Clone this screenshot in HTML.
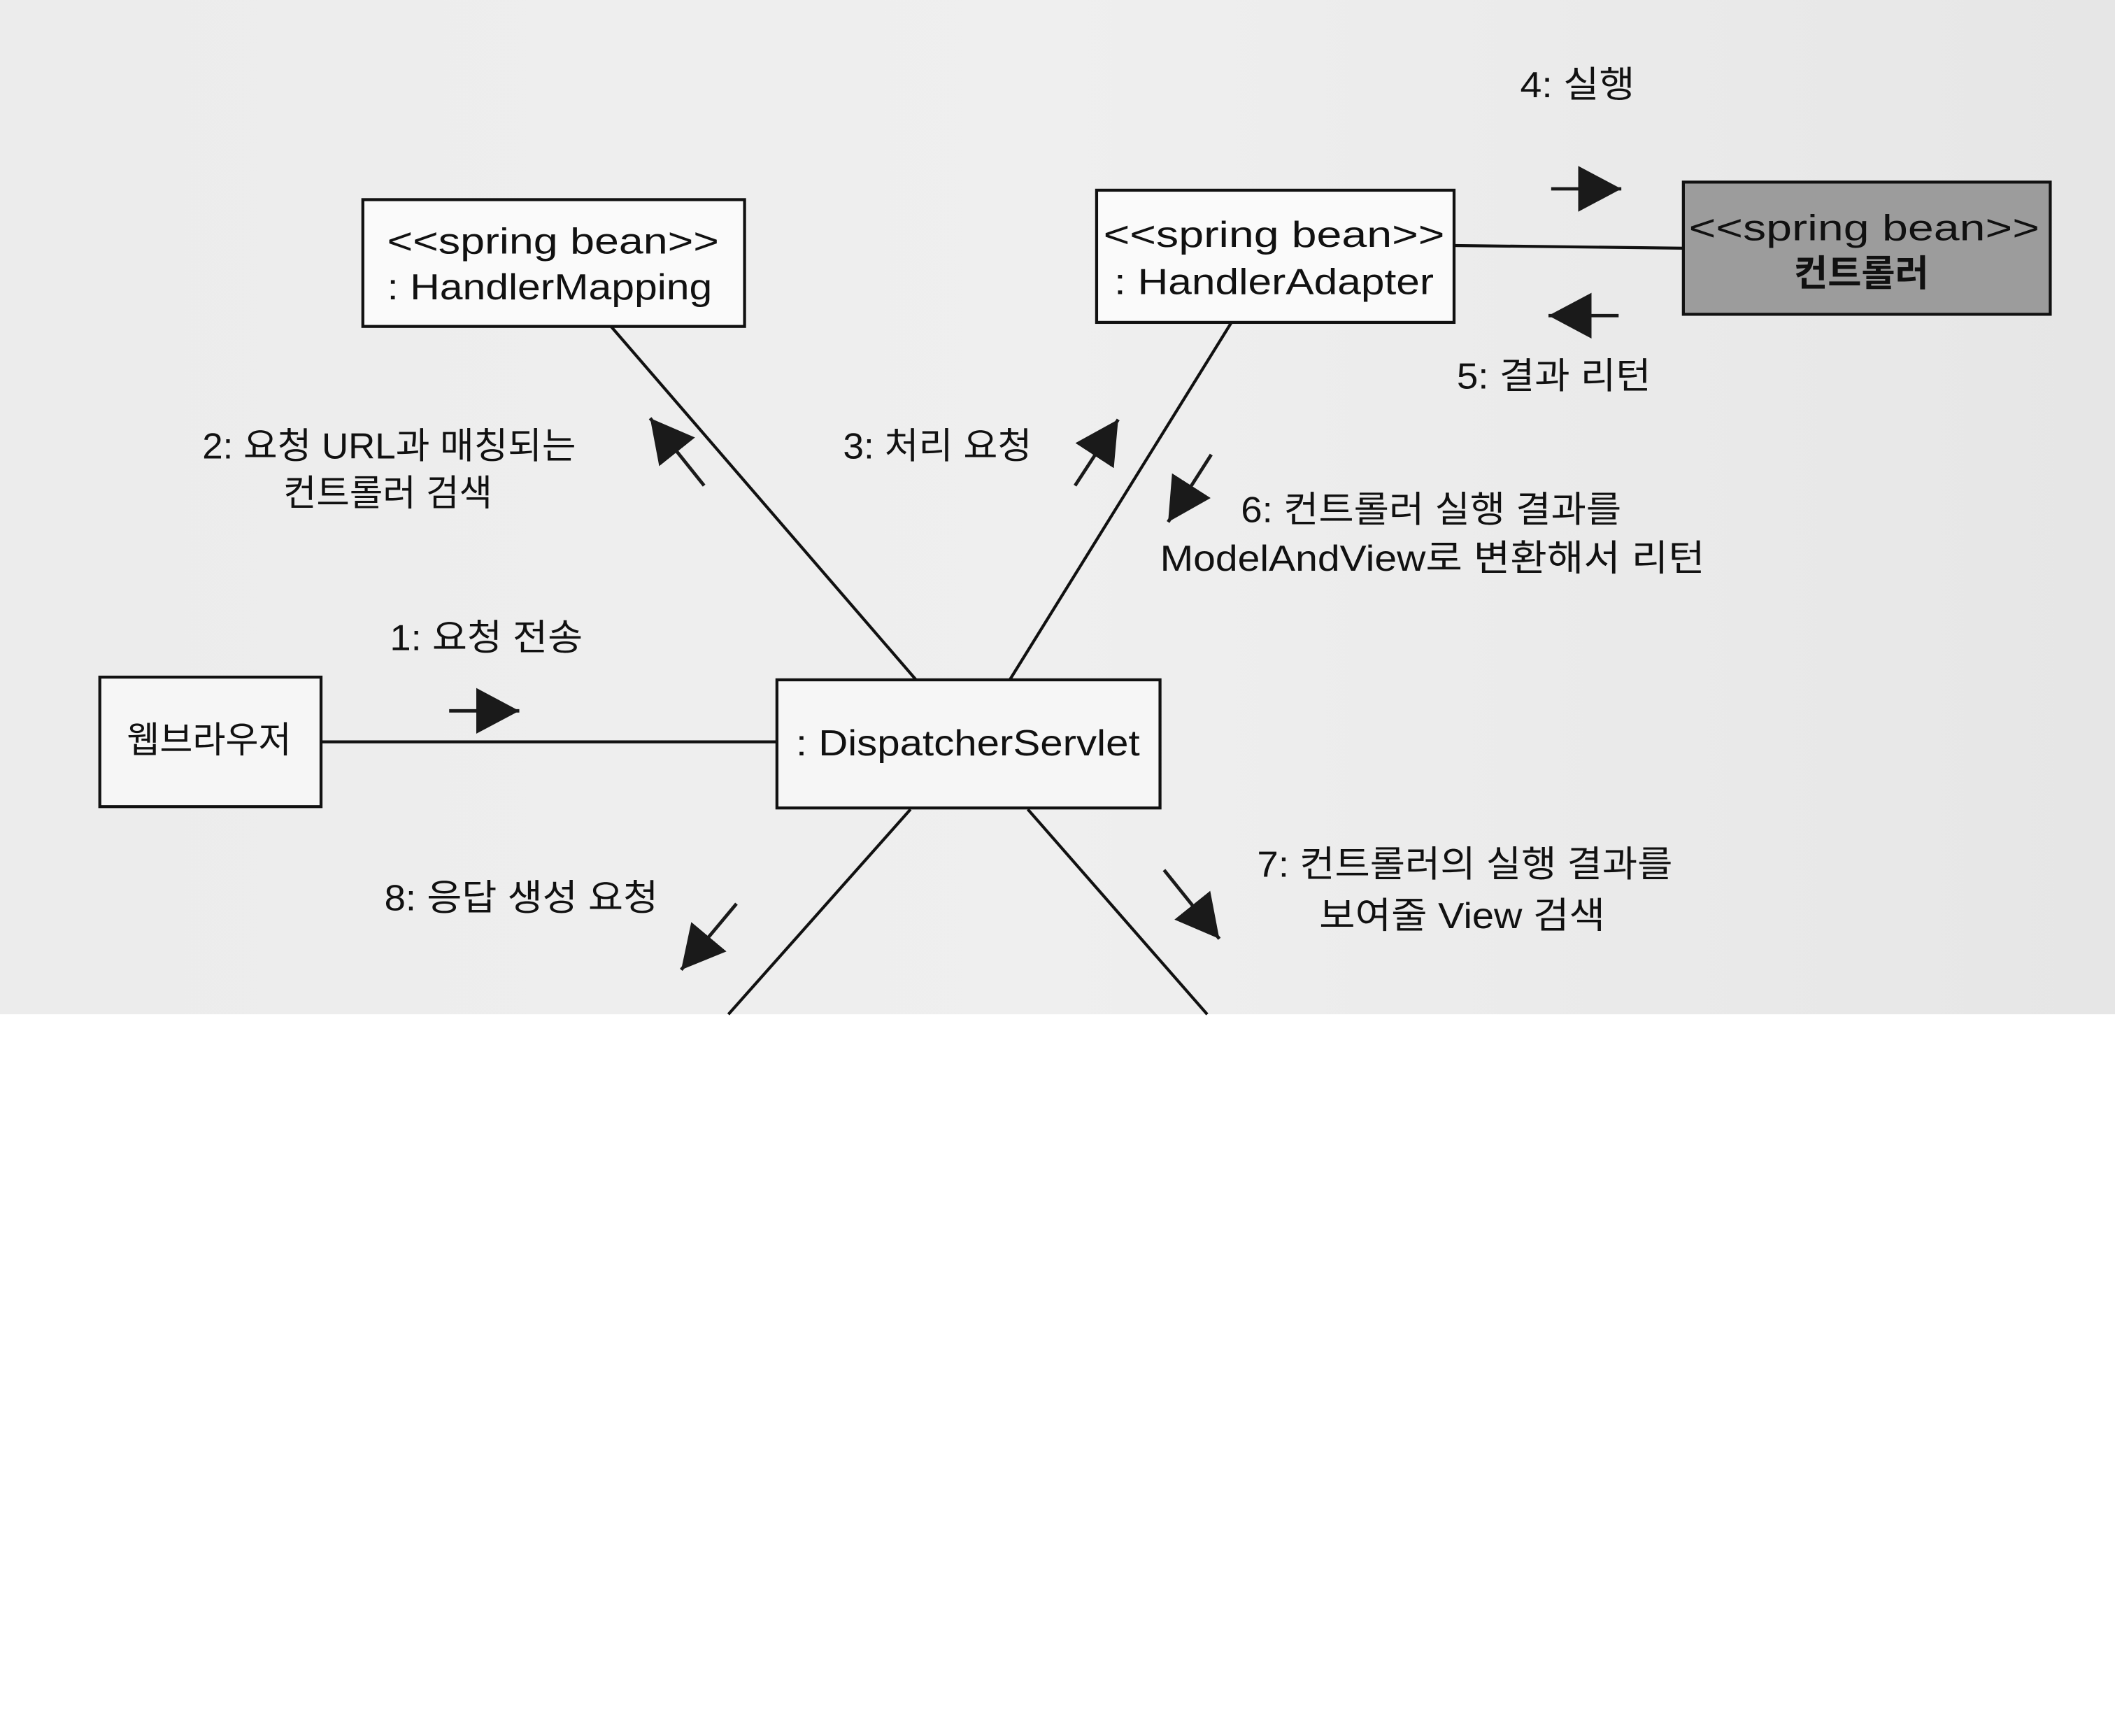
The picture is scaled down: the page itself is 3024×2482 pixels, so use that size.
<!DOCTYPE html>
<html><head><meta charset="utf-8"><style>
html,body{margin:0;padding:0;background:#fff}
svg{display:block}
text{font-family:"Liberation Sans","Noto Sans CJK KR",sans-serif;fill:#111}
</style></head><body>
<svg width="3024" height="2482" viewBox="0 0 1568 1287" xmlns="http://www.w3.org/2000/svg" preserveAspectRatio="none">
<defs>
<linearGradient id="bg" x1="0" y1="0" x2="1" y2="0">
<stop offset="0" stop-color="#ececec"/><stop offset="0.5" stop-color="#efefef"/><stop offset="1" stop-color="#e6e6e6"/>
</linearGradient>
<marker id="ah" markerUnits="userSpaceOnUse" markerWidth="40" markerHeight="40" refX="32" refY="17" orient="auto">
<path d="M0,0 L32,17 L0,34 z" fill="#1a1a1a"/>
</marker>
</defs>
<rect x="0" y="0" width="1568" height="752" fill="url(#bg)"/>
<rect x="0" y="752" width="1568" height="535" fill="#fff"/>

<g stroke="#111" stroke-width="2.2" fill="none">
<line x1="1078" y1="182" x2="1248" y2="184"/>
<line x1="238" y1="550" x2="576" y2="550"/>
<line x1="453" y1="242" x2="680" y2="505"/>
<line x1="913" y1="239" x2="748" y2="505"/>
<line x1="675" y1="600" x2="540" y2="752"/>
<line x1="762" y1="600" x2="895" y2="752"/>
</g>

<g stroke="#111" stroke-width="2.2">
<rect x="269" y="148" width="283" height="94" fill="#fafafa"/>
<rect x="813" y="141" width="265" height="98" fill="#fafafa"/>
<rect x="1248" y="135" width="272" height="98" fill="#9c9c9c"/>
<rect x="74" y="502" width="164" height="96" fill="#f6f6f6"/>
<rect x="576" y="504" width="284" height="95" fill="#f6f6f6"/>
</g>

<g stroke="#1a1a1a" stroke-width="2.5" marker-end="url(#ah)">
<line x1="1150" y1="140" x2="1202" y2="140"/>
<line x1="1200" y1="234" x2="1148" y2="234"/>
<line x1="333" y1="527" x2="385" y2="527"/>
<line x1="522" y1="360" x2="482" y2="310"/>
<line x1="797" y1="360" x2="829" y2="311"/>
<line x1="898" y1="337" x2="866" y2="387"/>
<line x1="863" y1="645" x2="904" y2="696"/>
<line x1="546" y1="670" x2="505" y2="719"/>
</g>

<g font-size="27" lengthAdjust="spacingAndGlyphs">
<text x="287" y="188" textLength="246" lengthAdjust="spacingAndGlyphs">&lt;&lt;spring bean&gt;&gt;</text>
<text x="287" y="222" textLength="241" lengthAdjust="spacingAndGlyphs">: HandlerMapping</text>
<text x="818" y="183" textLength="253" lengthAdjust="spacingAndGlyphs">&lt;&lt;spring bean&gt;&gt;</text>
<text x="826" y="218" textLength="237" lengthAdjust="spacingAndGlyphs">: HandlerAdapter</text>
<text x="1252" y="178" textLength="260" lengthAdjust="spacingAndGlyphs">&lt;&lt;spring bean&gt;&gt;</text>
<text x="1330" y="212" textLength="100" lengthAdjust="spacingAndGlyphs" font-weight="bold">컨트롤러</text>
<text x="94" y="558" textLength="122" lengthAdjust="spacingAndGlyphs">웹브라우저</text>
<text x="590" y="560" textLength="255" lengthAdjust="spacingAndGlyphs">: DispatcherServlet</text>

<text x="1127" y="72" textLength="85" lengthAdjust="spacingAndGlyphs">4: 실행</text>
<text x="1080" y="288" textLength="144" lengthAdjust="spacingAndGlyphs">5: 결과 리턴</text>
<text x="150" y="340" textLength="277" lengthAdjust="spacingAndGlyphs">2: 요청 URL과 매칭되는</text>
<text x="210" y="375" textLength="155" lengthAdjust="spacingAndGlyphs">컨트롤러 검색</text>
<text x="625" y="340" textLength="140" lengthAdjust="spacingAndGlyphs">3: 처리 요청</text>
<text x="920" y="387" textLength="282" lengthAdjust="spacingAndGlyphs">6: 컨트롤러 실행 결과를</text>
<text x="860" y="423" textLength="404" lengthAdjust="spacingAndGlyphs">ModelAndView로 변환해서 리턴</text>
<text x="289" y="482" textLength="143" lengthAdjust="spacingAndGlyphs">1: 요청 전송</text>
<text x="285" y="675" textLength="203" lengthAdjust="spacingAndGlyphs">8: 응답 생성 요청</text>
<text x="932" y="650" textLength="308" lengthAdjust="spacingAndGlyphs">7: 컨트롤러의 실행 결과를</text>
<text x="978" y="688" textLength="212" lengthAdjust="spacingAndGlyphs">보여줄 View 검색</text>
</g>
</svg>
</body></html>
